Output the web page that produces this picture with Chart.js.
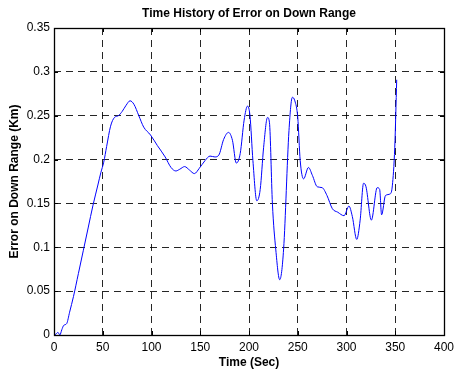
<!DOCTYPE html>
<html>
<head>
<meta charset="utf-8">
<script src="https://cdn.jsdelivr.net/npm/chart.js@4/dist/chart.umd.min.js"></script>
<style>
  html, body { margin: 0; padding: 0; background: #fff; }
  #wrap { width: 454px; height: 371px; }
</style>
</head>
<body>
<div id="wrap"><canvas id="errorChart" width="454" height="371"></canvas></div>
<script>
// time samples (sec) and the down range error (km) at each one
const timeSec = [
  0, 2, 4, 6, 8, 10, 13, 16, 20, 25, 30, 35, 40, 45, 48, 51, 54, 58, 62, 66,
  70, 74, 78, 82, 87, 92, 99, 106, 114, 120, 125, 129, 134, 139, 144, 149,
  155, 160, 165, 169, 174, 179, 183, 187, 191, 195, 198.5, 201, 204, 208,
  211.5, 215, 219, 221, 224, 227.5, 231.5, 235.5, 241, 244.5, 247, 250,
  252.5, 256, 261, 265, 270, 275, 280, 285.5, 291, 297.5, 302.5, 306, 310.5,
  314, 317.5, 320, 325.5, 331.5, 334, 336, 340, 345, 347, 349.5, 351.5
];
const errorKm = [
  0.0, 0.001, 0.003, 0.0, 0.006, 0.011, 0.013, 0.026, 0.044, 0.07, 0.096,
  0.122, 0.148, 0.171, 0.185, 0.197, 0.215, 0.238, 0.248, 0.25, 0.255, 0.262,
  0.267, 0.263, 0.25, 0.237, 0.228, 0.216, 0.203, 0.191, 0.187, 0.189, 0.192,
  0.188, 0.184, 0.19, 0.199, 0.204, 0.203, 0.205, 0.223, 0.231, 0.222, 0.196,
  0.207, 0.245, 0.261, 0.25, 0.199, 0.153, 0.166, 0.214, 0.248, 0.242, 0.15,
  0.097, 0.063, 0.098, 0.233, 0.271, 0.267, 0.248, 0.199, 0.178, 0.191, 0.182,
  0.169, 0.168, 0.159, 0.144, 0.14, 0.136, 0.147, 0.135, 0.109, 0.131, 0.173,
  0.169, 0.131, 0.168, 0.166, 0.137, 0.159, 0.161, 0.17, 0.214, 0.291
];
const xTicks = [0, 50, 100, 150, 200, 250, 300, 350, 400];
const yTicks = [0, 0.05, 0.1, 0.15, 0.2, 0.25, 0.3, 0.35];

const FONT = "'Liberation Sans', Arial, Helvetica, sans-serif";

// box round the plot, with short inward ticks on all four sides, plus the title
const boxAndTitle = {
  id: "boxAndTitle",
  afterDraw(chart) {
    const { ctx, chartArea: a, scales } = chart;
    const len = 4;
    ctx.save();
    ctx.strokeStyle = "#000";
    ctx.lineWidth = 1;
    ctx.beginPath();
    for (const t of xTicks) {
      const x = Math.round(scales.x.getPixelForValue(t)) + 0.5;
      ctx.moveTo(x, a.bottom);
      ctx.lineTo(x, a.bottom - len);
      ctx.moveTo(x, a.top);
      ctx.lineTo(x, a.top + len);
    }
    for (const v of yTicks) {
      const y = Math.round(scales.y.getPixelForValue(v)) + 0.5;
      ctx.moveTo(a.left, y);
      ctx.lineTo(a.left + len, y);
      ctx.moveTo(a.right, y);
      ctx.lineTo(a.right - len, y);
    }
    ctx.stroke();
    ctx.lineWidth = 1.3;
    ctx.strokeRect(Math.round(a.left) + 0.5, Math.round(a.top) + 0.5,
      Math.round(a.right - a.left), Math.round(a.bottom - a.top));

    ctx.fillStyle = "#000";
    ctx.font = "bold 12px " + FONT;
    ctx.textAlign = "center";
    ctx.textBaseline = "middle";
    ctx.fillText("Time History of Error on Down Range", (a.left + a.right) / 2, 14);
    ctx.restore();
  },
};

const gridOpts = {
  color: "rgba(0,0,0,0.85)",
  lineWidth: 1,
  drawTicks: false,
};

new Chart(document.getElementById("errorChart").getContext("2d"), {
  type: "line",
  data: {
    datasets: [
      {
        data: timeSec.map((t, i) => ({ x: t, y: errorKm[i] })),
        borderColor: "#0000ff",
        borderWidth: 1,
        pointRadius: 0,
        cubicInterpolationMode: "monotone",
        fill: false,
      },
    ],
  },
  options: {
    responsive: false,
    animation: false,
    layout: { padding: { top: 28, right: 10, left: 0, bottom: 0 } },
    plugins: {
      legend: { display: false },
      tooltip: { enabled: false },
      title: { display: false },
    },
    scales: {
      x: {
        type: "linear",
        min: 0,
        max: 400,
        afterBuildTicks: (scale) => {
          scale.ticks = xTicks.map((v) => ({ value: v }));
        },
        afterFit: (scale) => {
          scale.height = 36;
          // the "400" label may hang past the plot edge
          scale.paddingRight = 0;
        },
        grid: gridOpts,
        border: { display: false, dash: [7, 5] },
        ticks: {
          padding: 5,
          color: "#000",
          maxRotation: 0,
          font: { family: FONT, size: 12 },
        },
        title: {
          display: true,
          text: "Time (Sec)",
          color: "#000",
          padding: { top: 0, bottom: 1 },
          font: { family: FONT, size: 12, weight: "bold" },
        },
      },
      y: {
        min: 0,
        max: 0.35,
        afterBuildTicks: (scale) => {
          scale.ticks = yTicks.map((v) => ({ value: v }));
        },
        afterFit: (scale) => {
          scale.width = 54;
        },
        grid: gridOpts,
        border: { display: false, dash: [7, 5] },
        ticks: {
          padding: 4,
          color: "#000",
          font: { family: FONT, size: 12 },
          callback: (v) => String(+v.toFixed(2)),
        },
        title: {
          display: true,
          text: "Error on Down Range (Km)",
          color: "#000",
          padding: { top: 7, bottom: 0 },
          font: { family: FONT, size: 12, weight: "bold" },
        },
      },
    },
  },
  plugins: [boxAndTitle],
});
</script>
</body>
</html>
